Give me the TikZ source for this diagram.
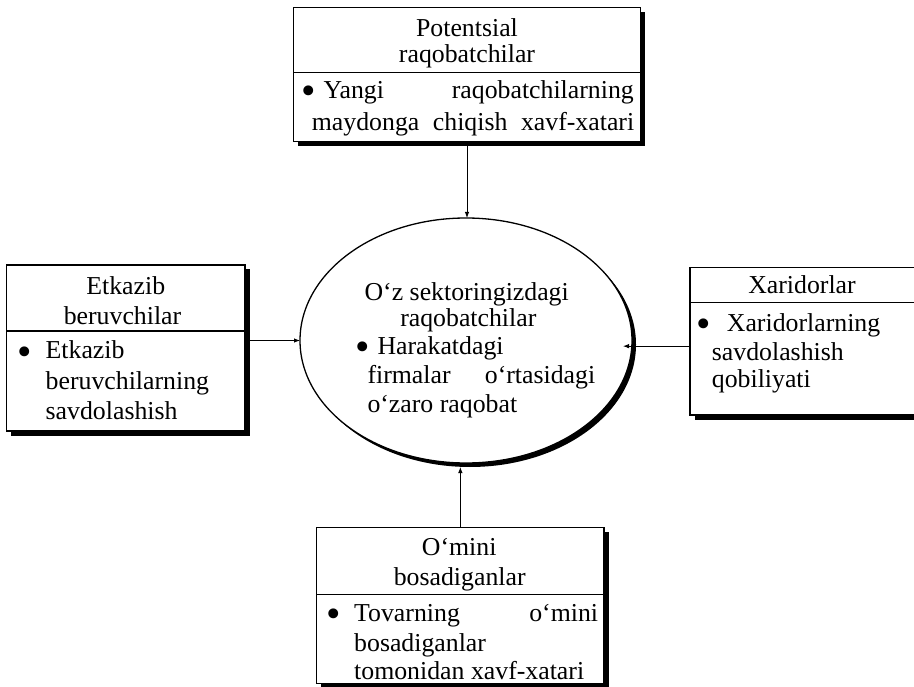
\documentclass[tikz,border=0pt]{standalone}
\usepackage{fontspec}
\setmainfont{Liberation Serif}
\usetikzlibrary{shapes.geometric,shadows,arrows.meta}
\begin{document}
\begin{tikzpicture}[x=1pt,y=-1pt,
  every node/.style={font=\fontsize{25.8}{30}\selectfont},
  frame/.style={draw, line width=1.3pt, fill=white, inner sep=0pt, outer sep=0pt, anchor=north west,
    general shadow={fill=black, shadow xshift=4.5pt, shadow yshift=-4.5pt}},
  oval/.style={ellipse, draw, line width=1.3pt, fill=white, inner sep=0pt, outer sep=0pt,
    general shadow={fill=black, shadow xshift=4pt, shadow yshift=-4pt}},
  lbl/.style={inner sep=0pt, anchor=base},
  lw/.style={inner sep=0pt, anchor=base west},
  le/.style={inner sep=0pt, anchor=base east},
  bul/.style={inner sep=0pt, anchor=center},
  arr/.style={line width=0.9pt, -{Latex[length=6pt,width=4.5pt]}},
  rulex/.style={line width=1.3pt}]
\useasboundingbox (0,0) rectangle (914,687);
\clip (0,0) rectangle (914,687);
\fill[white] (0,0) rectangle (914,687);
\newcommand{\bigbul}{\scalebox{1.6}{•}}

% ---------- top box ----------
\node[frame, minimum width=347.4pt, minimum height=134.4pt] (T) at (293.3,7.3) {};
\coordinate (tdiv) at (0,72.7);
\draw[rulex] (T.west |- tdiv) -- (T.east |- tdiv);
\node[lbl] (Th1) at (467,36.7) {Potentsial};
\node[lbl] (Th2) at (467,63) {raqobatchilar};
\node[bul] (Tb) at (308.3,95.7) {\bigbul};
\node[lw] (Tt1) at (323.3,99) {Yangi};
\node[le] (Tt2) at (634,99) {raqobatchilarning};
\node[lw] (Tt3) at (311.7,131) {\makebox[322.3pt][s]{maydonga chiqish xavf-xatari}};

% ---------- left box ----------
\node[frame, minimum width=238.3pt, minimum height=166pt] (L) at (6.7,265) {};
\coordinate (ldiv) at (0,331);
\draw[rulex] (L.west |- ldiv) -- (L.east |- ldiv);
\node[lbl] (Lh1) at (125.8,295) {Etkazib};
\node[lbl] (Lh2) at (122.5,325) {beruvchilar};
\node[bul] (Lb) at (24.5,356) {\bigbul};
\node[lw] (Lt1) at (45.5,358.5) {Etkazib};
\node[lw] (Lt2) at (45.5,389) {beruvchilarning};
\node[lw] (Lt3) at (45.5,419) {savdolashish};

% ---------- right box ----------
\node[frame, minimum width=226pt, minimum height=147.7pt] (R) at (690,267.3) {};
\coordinate (rdiv) at (0,302.3);
\draw[rulex] (R.west |- rdiv) -- (R.east |- rdiv);
\node[lbl] (Rh1) at (802,293.3) {Xaridorlar};
\node[bul] (Rb) at (704,328.5) {\bigbul};
\node[lw] (Rt1) at (726.7,332) {Xaridorlarning};
\node[lw] (Rt2) at (711.7,360) {savdolashish};
\node[lw] (Rt3) at (711.7,388) {qobiliyati};

% ---------- ellipse ----------
\node[oval, minimum width=332pt, minimum height=245pt] (E) at (466,340.5) {};
\node[lbl] (Eh1) at (466.7,300.7) {O‘z sektoringizdagi};
\node[lbl] (Eh2) at (468.3,327) {raqobatchilar};
\node[bul] (Eb) at (362.5,351.5) {\bigbul};
\node[lw] (Et1) at (377.3,355) {Harakatdagi};
\node[lw] (Et2) at (367.3,384) {\makebox[227.7pt][s]{firmalar o‘rtasidagi}};
\node[lw] (Et3) at (367.3,413) {o‘zaro raqobat};

% ---------- bottom box ----------
\node[frame, minimum width=287.3pt, minimum height=156pt] (B) at (316.7,527.3) {};
\coordinate (bdiv) at (0,594.5);
\draw[rulex] (B.west |- bdiv) -- (B.east |- bdiv);
\node[lbl] (Bh1) at (459.2,555.5) {O‘mini};
\node[lbl] (Bh2) at (459.7,585) {bosadiganlar};
\node[bul] (Bb) at (333.5,618) {\bigbul};
\node[lw] (Bt1) at (354,621) {Tovarning};
\node[le] (Bt2) at (598.3,621) {o‘mini};
\node[lw] (Bt3) at (354,651) {bosadiganlar};
\node[lw] (Bt4) at (354,679) {tomonidan xavf-xatari};

% ---------- connectors ----------
\draw[arr] (T.south) -- (T.south |- E.north);
\draw[arr] (L.east |- E.west) -- (E.west);
\coordinate (r1) at ([yshift=-5pt]R.west);
\draw[arr, shorten >=-9pt] (r1) -- (r1 -| E.east);
\coordinate (bt) at ([yshift=-4pt]E.south);
\draw[arr] (B.north) -- (B.north |- bt);
\end{tikzpicture}
\end{document}
